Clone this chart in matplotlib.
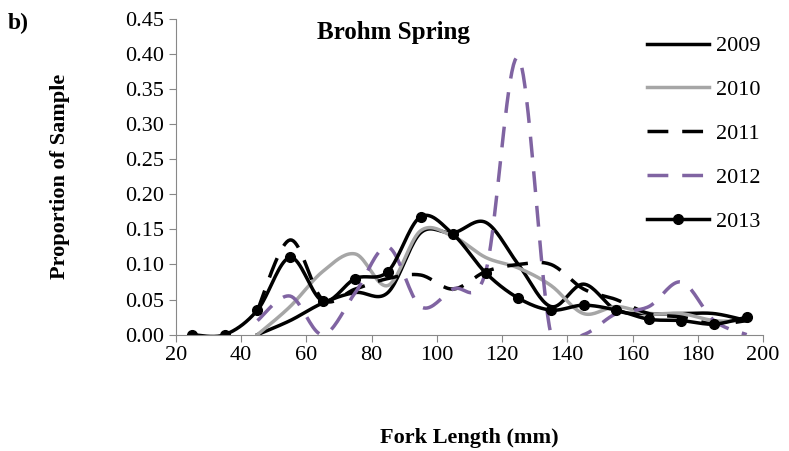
import numpy as np
import matplotlib
matplotlib.use("Agg")
import matplotlib.pyplot as plt

plt.rcParams["font.family"] = ["Liberation Serif", "DejaVu Serif"]

fork_length = [25, 35, 45, 55, 65, 75, 85, 95, 105, 115, 125, 135, 145, 155, 165, 175, 185, 195]
y2009 = [None, None, 0.0, 0.02, 0.045, 0.06, 0.06, 0.145, 0.145, 0.16, 0.10, 0.04, 0.072, 0.035, 0.03, 0.03, 0.03, 0.02]
y2010 = [None, None, 0.0, 0.04, 0.09, 0.115, 0.07, 0.148, 0.14, 0.11, 0.095, 0.07, 0.03, 0.04, 0.03, 0.03, 0.02, 0.02]
y2011 = [None, None, 0.035, 0.135, 0.05, 0.065, 0.08, 0.085, 0.065, 0.09, 0.10, 0.10, 0.065, 0.05, 0.03, 0.025, 0.015, 0.02]
y2012 = [None, None, 0.02, 0.055, 0.0, 0.06, 0.125, 0.04, 0.065, 0.09, 0.395, 0.0, 0.0, 0.03, 0.04, 0.075, 0.02, 0.0]
y2013 = [0.0, 0.0, 0.035, 0.11, 0.048, 0.08, 0.09, 0.168, 0.143, 0.088, 0.052, 0.035, 0.042, 0.035, 0.022, 0.02, 0.015, 0.025]


def smooth(xs, ys, n=20):
    # Catmull-Rom curve through the points, like Excel's smoothed line
    pts = [(x, y) for x, y in zip(xs, ys) if y is not None]
    p = np.array(pts, dtype=float)
    p = np.vstack([p[0], p, p[-1]])
    out = []
    t = np.linspace(0, 1, n, endpoint=False)[:, None]
    for i in range(1, len(p) - 2):
        p0, p1, p2, p3 = p[i - 1], p[i], p[i + 1], p[i + 2]
        seg = 0.5 * ((2 * p1) + (-p0 + p2) * t + (2 * p0 - 5 * p1 + 4 * p2 - p3) * t ** 2
                     + (-p0 + 3 * p1 - 3 * p2 + p3) * t ** 3)
        out.append(seg)
    out.append(p[-2][None, :])
    out = np.vstack(out)
    return out[:, 0], out[:, 1]


fig = plt.figure(figsize=(7.89, 4.51), dpi=100)
ax = fig.add_axes([0.223, 0.258, 0.744, 0.7])

series = [
    ("2009", y2009, dict(color="black", lw=2.5)),
    ("2010", y2010, dict(color="#a6a6a6", lw=2.5)),
    ("2011", y2011, dict(color="black", lw=2.5, dashes=(6, 4))),
    ("2012", y2012, dict(color="#8064a2", lw=2.5, dashes=(6, 4))),
]
for name, ys, style in series:
    sx, sy = smooth(fork_length, ys)
    ax.plot(sx, sy, label=name, **style)

sx, sy = smooth(fork_length, y2013)
ax.plot(sx, sy, color="black", lw=2.5)
ax.plot(fork_length, y2013, "o", color="black", ms=7)
ax.plot([], [], "-o", color="black", lw=2.5, ms=7, label="2013")

ax.set_xlim(20, 200)
ax.set_ylim(0, 0.45)
ax.set_xticks(range(20, 201, 20))
ax.set_yticks(np.arange(0, 0.451, 0.05))
ax.yaxis.set_major_formatter(matplotlib.ticker.FormatStrFormatter("%.2f"))
ax.tick_params(labelsize=16, color="#888888", direction="out", length=5)
for side in ["top", "right"]:
    ax.spines[side].set_visible(False)
for side in ["left", "bottom"]:
    ax.spines[side].set_color("#888888")

ax.set_xlabel("Fork Length (mm)", fontsize=16, fontweight="bold", labelpad=45)
ax.set_ylabel("Proportion of Sample", fontsize=16, fontweight="bold", labelpad=40)
ax.text(0.37, 0.935, "Brohm Spring", transform=ax.transAxes, ha="center",
        fontsize=18, fontweight="bold")
fig.text(0.01, 0.935, "b)", fontsize=17, fontweight="bold")

ax.legend(loc="upper right", bbox_to_anchor=(1.03, 1.01), frameon=False, fontsize=16,
          handlelength=2.8, labelspacing=1.05, handletextpad=0.3)

fig.savefig("out.png", dpi=100)
